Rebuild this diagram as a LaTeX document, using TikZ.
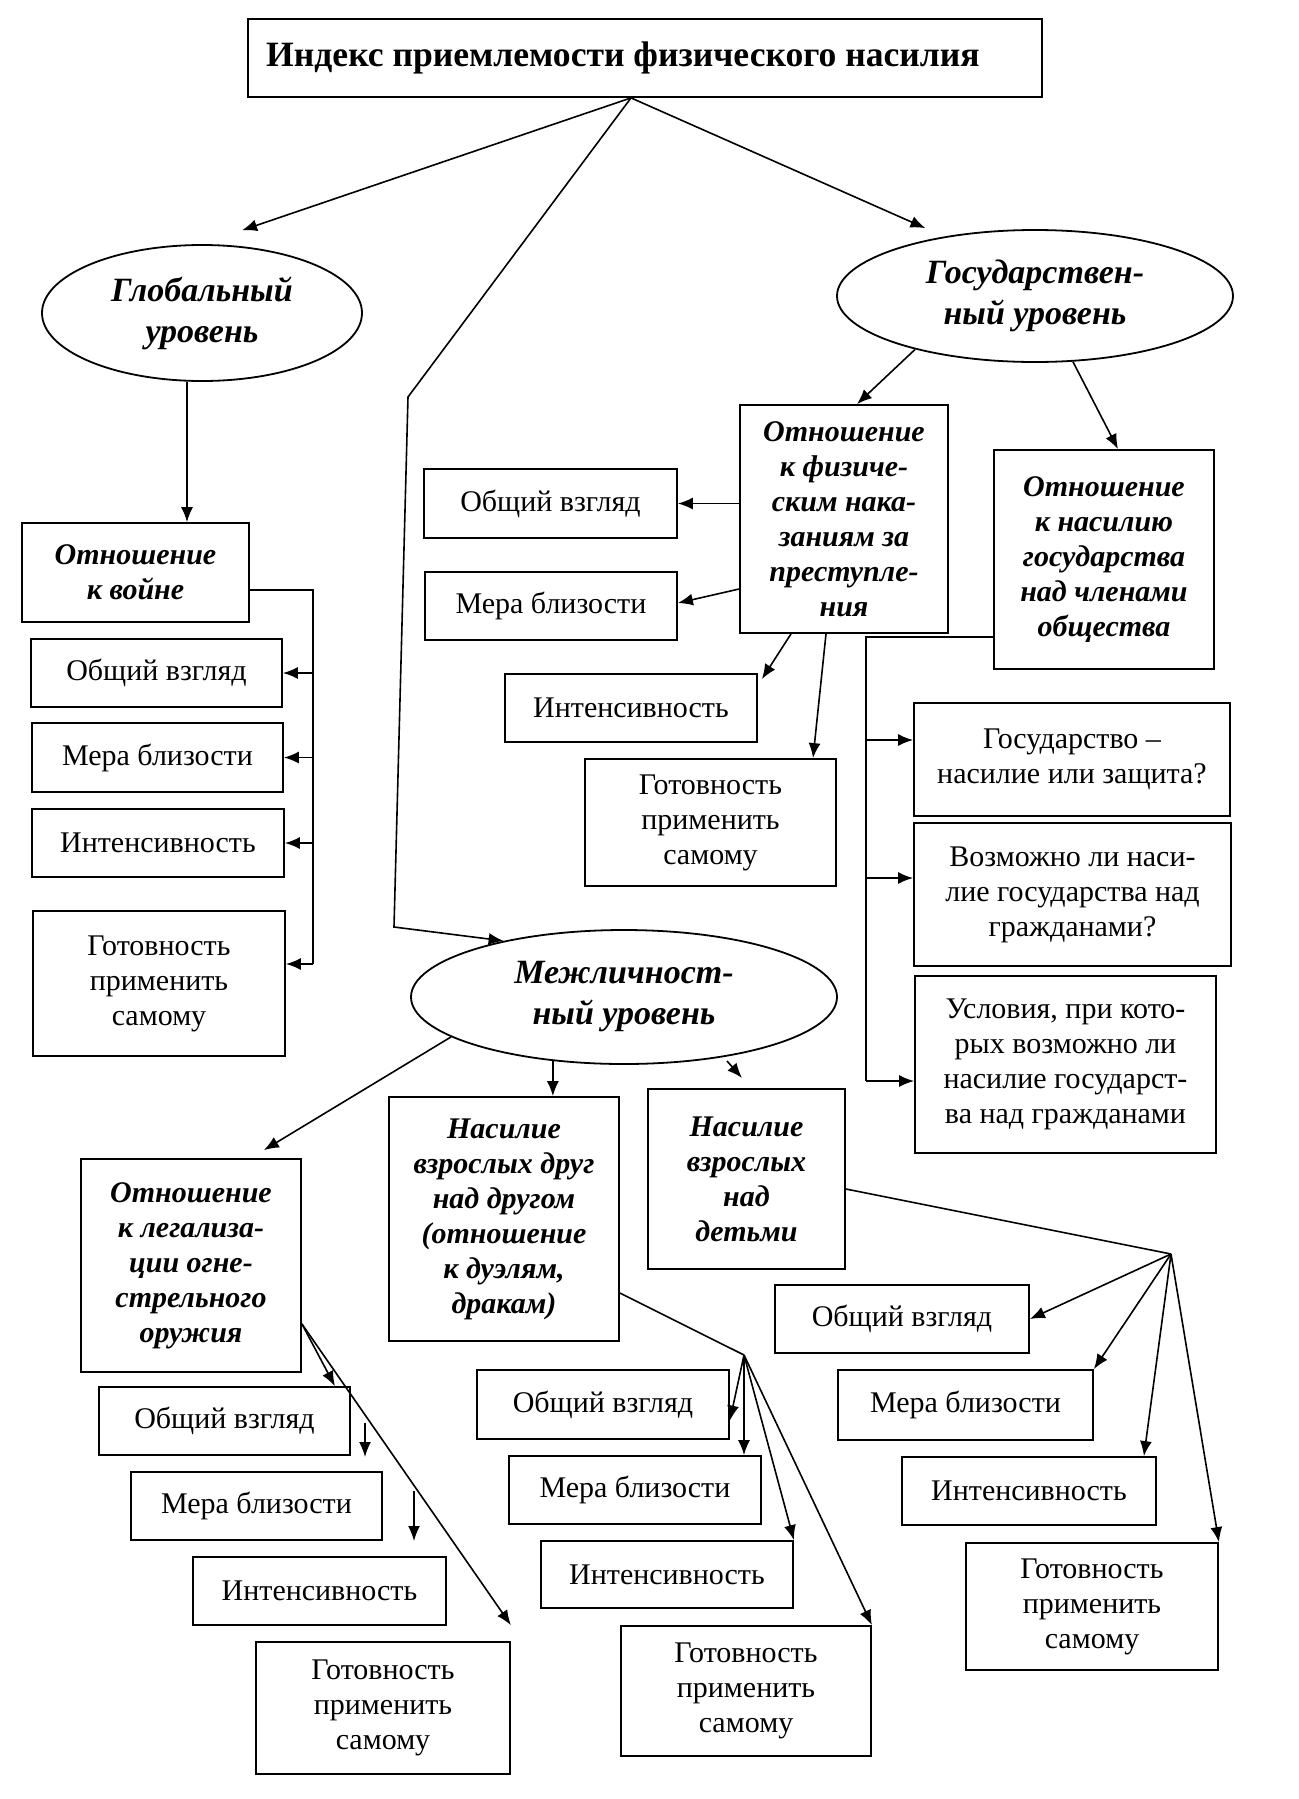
\documentclass[tikz,border=0pt]{standalone}
\usepackage{fontspec}
\setmainfont{Liberation Serif}
\usetikzlibrary{arrows.meta,shapes.geometric,calc}
\newcommand\plainfont{\fontsize{15}{17.5}\selectfont}
\newcommand\headfont{\fontsize{15}{17.5}\selectfont\bfseries\itshape}
\newcommand\ellfont{\fontsize{17}{20.5}\selectfont\bfseries\itshape}
\newcommand\ttlfont{\fontsize{17.8}{20}\selectfont\bfseries}
\newcommand\mybox[7][]{\node[pbox,#1,minimum width={(#5-#3)*0.5pt},minimum height={(#6-#4)*0.5pt}] (#2) at ({(#3+#5)/2},{(#4+#6)/2}) {#7};}
\begin{document}
\begin{tikzpicture}[x=0.5pt,y=-0.5pt,
  pbox/.style={draw,line width=0.9pt,inner sep=0pt,align=center,font=\plainfont},
  hbox/.style={font=\headfont},
  ell/.style={draw,ellipse,line width=0.9pt,inner sep=0pt,align=center,font=\ellfont},
  arr/.style={-{Latex[length=7.5pt,width=6pt]},line width=0.8pt},
  ln/.style={line width=0.8pt}]
\useasboundingbox[fill=white] (0,0) rectangle (1299,1799);
% nodes
\mybox[font=\ttlfont]{title}{248}{19}{1042}{97}{\hspace*{-22pt}Индекс приемлемости физического насилия}
\node[ell,minimum width=160pt,minimum height=68pt] (glob) at (202,313) {Глобальный\\уровень};
\node[ell,minimum width=198pt,minimum height=66pt] (gos) at (1035,296) {Государствен-\\ный уровень};
\node[ell,minimum width=213pt,minimum height=67pt] (mezh) at (624,997) {Межличност-\\ный уровень};
\mybox[hbox]{war}{22}{523}{249}{622}{Отношение\\к войне}
\mybox{ogv1}{31}{639}{282}{707}{Общий взгляд}
\mybox{mer1}{32}{723}{283}{792}{Мера близости}
\mybox{int1}{32}{809}{284}{877}{Интенсивность}
\mybox{got1}{33}{911}{285}{1056}{Готовность\\применить\\самому}
\mybox[hbox]{phys}{740}{405}{948}{633}{Отношение\\к физиче-\\ским нака-\\заниям за\\преступле-\\ния}
\mybox{ogv2}{424}{469}{677}{538}{Общий взгляд}
\mybox{mer2}{425}{572}{677}{640}{Мера близости}
\mybox{int2}{505}{674}{757}{742}{Интенсивность}
\mybox{got2}{585}{759}{836}{886}{Готовность\\применить\\самому}
\mybox[hbox]{nasgos}{994}{450}{1214}{669}{Отношение\\к насилию\\государства\\над членами\\общества}
\mybox{gs1}{914}{703}{1230}{816}{Государство –\\насилие или защита?}
\mybox{gs2}{914}{823}{1231}{966}{Возможно ли наси-\\лие государства над\\гражданами?}
\mybox{gs3}{915}{976}{1216}{1153}{Условия, при кото-\\рых возможно ли\\насилие государст-\\ва над гражданами}
\mybox[hbox]{legal}{81}{1159}{301}{1372}{Отношение\\к легализа-\\ции огне-\\стрельного\\оружия}
\mybox[hbox]{druga}{389}{1097}{619}{1341}{Насилие\\взрослых друг\\над другом\\(отношение\\к дуэлям,\\дракам)}
\mybox[hbox]{child}{648}{1089}{845}{1269}{Насилие\\взрослых\\над\\детьми}
\mybox{ogv3}{99}{1387}{350}{1455}{Общий взгляд}
\mybox{mer3}{131}{1472}{382}{1540}{Мера близости}
\mybox{int3}{193}{1557}{446}{1625}{Интенсивность}
\mybox{got3}{256}{1642}{510}{1774}{Готовность\\применить\\самому}
\mybox{ogv4}{477}{1370}{729}{1439}{Общий взгляд}
\mybox{mer4}{509}{1456}{761}{1524}{Мера близости}
\mybox{int4}{541}{1541}{793}{1608}{Интенсивность}
\mybox{got4}{621}{1626}{871}{1756}{Готовность\\применить\\самому}
\mybox{ogv5}{775}{1285}{1029}{1353}{Общий взгляд}
\mybox{mer5}{838}{1370}{1093}{1440}{Мера близости}
\mybox{int5}{902}{1457}{1156}{1525}{Интенсивность}
\mybox{got5}{966}{1543}{1218}{1670}{Готовность\\применить\\самому}
% coordinates
\coordinate (ts) at ([xshift=-7pt]title.south);
\coordinate (b1) at (408,397);
\coordinate (b2) at (394,927);
\coordinate (wb) at (313,590);
\coordinate (gb) at (866,637);
\coordinate (lg) at ([yshift=24.5pt]legal.south east);
\coordinate (f1a) at (365,1423);
\coordinate (f1b) at (365,1457);
\coordinate (f2a) at (414,1491);
\coordinate (f2b) at (414,1541);
\coordinate (s1) at (727,1061);
\coordinate (s2) at (742,1078);
\coordinate (hubm) at (744,1355);
\coordinate (hubr) at (1171,1254);
% connectors from title
\draw[arr] (ts) -- ([yshift=8pt]glob.59);
\draw[arr] (ts) -- ([yshift=6pt]gos.153);
\draw[arr] (ts) -- (b1) -- (b2) -- (mezh.155);
% global
\draw[arr] ([xshift=-7.5pt]glob.south) -- ([xshift=-7.5pt]glob.south |- war.north);
\draw[ln] (war.east |- wb) -- (wb) -- (wb |- 0,964);
\draw[arr] (wb |- ogv1.east) -- (ogv1.east);
\draw[arr] (wb |- mer1.east) -- (mer1.east);
\draw[arr] (wb |- int1.east) -- (int1.east);
\draw[arr] (wb |- 0,964) -- (got1.east |- 0,964);
% state
\draw[arr] (gos.204) -- ([xshift=6.5pt]phys.north);
\draw[arr] (gos.300) -- ([xshift=7pt]nasgos.north);
\draw[arr] (phys.west |- ogv2.east) -- (ogv2.east);
\draw[arr] (phys.west |- 0,589) -- ([yshift=1.5pt]mer2.east);
\draw[arr] (phys.south -| 791,0) -- ([shift={(2pt,-3pt)}]int2.north east);
\draw[arr] (phys.south -| 826,0) -- (got2.north -| 813,0);
\draw[ln] (nasgos.west |- gb) -- (gb) -- (gb |- 0,1081);
\draw[arr] (gb |- 0,740) -- (gs1.west |- 0,740);
\draw[arr] (gb |- 0,878) -- (gs2.west |- 0,878);
\draw[arr] (gb |- 0,1081) -- (gs3.west |- 0,1081);
% interpersonal
\draw[arr] (mezh.193) -- ([shift={(-19pt,4pt)}]legal.north east);
\draw[arr] (mezh.222) -- (mezh.222 |- druga.north);
\draw[arr] (s1) -- (s2);
\draw[arr] (lg) -- ([xshift=-8pt]ogv3.north east);
\draw[arr] (lg) -- ([yshift=8pt]got3.north east);
\draw[arr] (f1a) -- (f1b);
\draw[arr] (f2a) -- (f2b);
\draw[ln] (druga.east |- 0,1293) -- (hubm);
\draw[arr] (hubm) -- ([yshift=-8pt]ogv4.east);
\draw[arr] (hubm) -- (mer4.north -| hubm);
\draw[arr] (hubm) -- (int4.north east);
\draw[arr] (hubm) -- (got4.north east);
\draw[ln] (child.east |- 0,1189) -- (hubr);
\draw[arr] (hubr) -- (ogv5.east);
\draw[arr] (hubr) -- (mer5.north east);
\draw[arr] (hubr) -- ([xshift=-6.5pt]int5.north east);
\draw[arr] (hubr) -- (got5.north east);
\end{tikzpicture}
\end{document}
